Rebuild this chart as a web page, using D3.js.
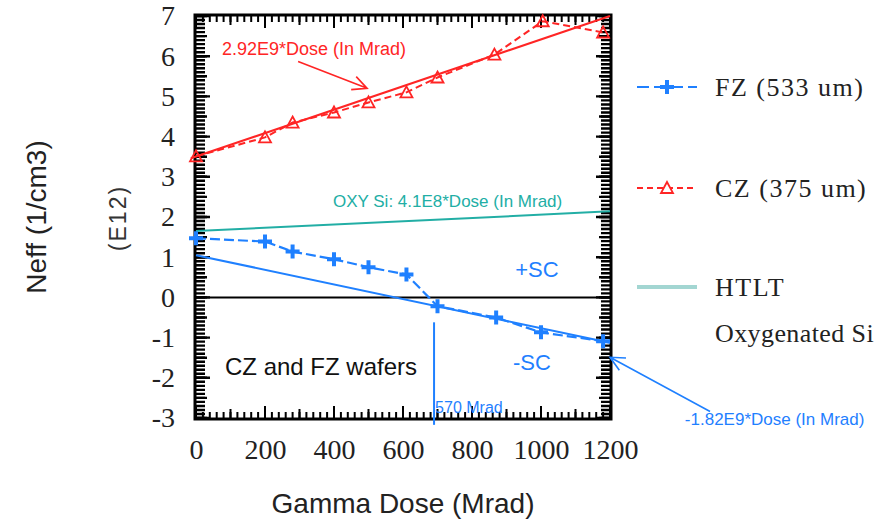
<!DOCTYPE html>
<html>
<head>
<meta charset="utf-8">
<script src="https://cdn.jsdelivr.net/npm/d3@7"></script>
<style>
  body { margin: 0; background: #fff; }
  svg { display: block; }
  .ax path { display: none; }
  .ax text { font-family: "Liberation Serif", serif; font-size: 28px; fill: #222; }
</style>
</head>
<body>
<svg width="883" height="521"></svg>
<script>
// values
const doseFZ = [0, 200, 280, 400, 500, 610, 700, 870, 1000, 1180];
const neffFZ = [1.47, 1.39, 1.14, 0.95, 0.75, 0.57, -0.22, -0.5, -0.87, -1.09];
const doseCZ = [0, 200, 280, 400, 500, 610, 700, 865, 1005, 1180];
const neffCZ = [3.51, 3.98, 4.35, 4.6, 4.85, 5.1, 5.47, 6.04, 6.87, 6.59];
// straight fits, [dose, neff] end points
const fitCZ = [[-15, 3.46], [1200, 7.0]];
const fitFZ = [[0, 1.05], [1200, -1.13]];
const fitOxy = [[0, 1.65], [1200, 2.14]];
const crossDose = 690;
const xTicks = [0, 200, 400, 600, 800, 1000, 1200];
const yTicks = [-3, -2, -1, 0, 1, 2, 3, 4, 5, 6, 7];

const blue = "#1f80ff", red = "#ff2525", teal = "#22aea5";

const svg = d3.select("svg");
const pLeft = 196, pRight = 610, pTop = 16, pBottom = 418;
const x = d3.scaleLinear().domain([0, 1200]).range([pLeft, pRight]);
const y = d3.scaleLinear().domain([-3, 7]).range([pBottom, pTop]);

// tick labels
svg.append("g").attr("class", "ax").attr("transform", `translate(${pLeft},0)`)
  .call(d3.axisLeft(y).tickValues(yTicks).tickSize(0).tickPadding(21).tickFormat(d => String(d)));
svg.append("g").attr("class", "ax").attr("transform", `translate(0,${pBottom})`)
  .call(d3.axisBottom(x).tickValues(xTicks).tickSize(0).tickPadding(21).tickFormat(d => String(d)));

// tick marks, all pointing into the frame, one path per set
function yTickMarks(vals, len) {
  const d = vals.map(v => `M${pLeft},${y(v)}h${len}M${pRight},${y(v)}h${-len}`).join("");
  svg.append("path").attr("d", d).attr("stroke", "#000").attr("stroke-width", 2.4).attr("fill", "none");
}
function xTickMarks(vals, len) {
  const d = vals.map(v => `M${x(v)},${pBottom}v${-len}M${x(v)},${pTop}v${len}`).join("");
  svg.append("path").attr("d", d).attr("stroke", "#000").attr("stroke-width", 2).attr("fill", "none");
}
yTickMarks(d3.range(-30, 71).map(d => d / 10), 9);
yTickMarks(d3.range(-6, 15).map(d => d / 2), 11);
yTickMarks(yTicks, 14);
xTickMarks(d3.range(0, 1201, 20), 6);
xTickMarks(d3.range(0, 1201, 100), 9);
xTickMarks(xTicks, 12);

svg.append("rect").attr("x", pLeft - 1).attr("y", pTop - 1)
  .attr("width", pRight - pLeft + 2).attr("height", pBottom - pTop + 2)
  .attr("fill", "none").attr("stroke", "#000").attr("stroke-width", 3);

// zero line
svg.append("line").attr("x1", x(0)).attr("x2", x(1200)).attr("y1", y(0)).attr("y2", y(0))
  .attr("stroke", "#000").attr("stroke-width", 2);

const line = d3.line().x(d => x(d[0])).y(d => y(d[1]));

// fits
svg.append("path").attr("d", line(fitOxy)).attr("stroke", teal).attr("stroke-width", 2).attr("fill", "none");
svg.append("path").attr("d", line(fitCZ)).attr("stroke", red).attr("stroke-width", 2.2).attr("fill", "none");
svg.append("path").attr("d", line(fitFZ)).attr("stroke", blue).attr("stroke-width", 2).attr("fill", "none");

// data
const czPts = doseCZ.map((d, i) => [d, neffCZ[i]]);
const fzPts = doseFZ.map((d, i) => [d, neffFZ[i]]);
svg.append("path").attr("d", line(czPts)).attr("stroke", red).attr("stroke-width", 2)
  .attr("stroke-dasharray", "7,4").attr("fill", "none");
svg.append("path").attr("d", line(fzPts)).attr("stroke", blue).attr("stroke-width", 2.2)
  .attr("stroke-dasharray", "10,4").attr("fill", "none");

const tri = "M0,-6L6,5L-6,5Z", plus = "M-7,0H7M0,-7V7";
svg.selectAll(".cz").data(czPts).enter().append("path").attr("class", "cz")
  .attr("d", tri).attr("transform", d => `translate(${x(d[0])},${y(d[1])})`)
  .attr("fill", "none").attr("stroke", red).attr("stroke-width", 1.8);
svg.selectAll(".fz").data(fzPts).enter().append("path").attr("class", "fz")
  .attr("d", plus).attr("transform", d => `translate(${x(d[0])},${y(d[1])})`)
  .attr("fill", "none").attr("stroke", blue).attr("stroke-width", 4);

// 570 Mrad marker
svg.append("line").attr("x1", x(crossDose)).attr("x2", x(crossDose))
  .attr("y1", y(-0.62)).attr("y2", y(-3.17)).attr("stroke", blue).attr("stroke-width", 2);

// arrows [from, tip] in data units
function arrow(from, tip, col) {
  const x0 = x(from[0]), y0 = y(from[1]), x1 = x(tip[0]), y1 = y(tip[1]);
  const a = Math.atan2(y1 - y0, x1 - x0), h = 16, s = 0.45;
  svg.append("path")
    .attr("d", `M${x0},${y0}L${x1},${y1}M${x1 - h * Math.cos(a - s)},${y1 - h * Math.sin(a - s)}L${x1},${y1}L${x1 - h * Math.cos(a + s)},${y1 - h * Math.sin(a + s)}`)
    .attr("stroke", col).attr("stroke-width", 1.6).attr("fill", "none");
}
arrow([296, 5.87], [496, 5.2], red);
arrow([1490, -2.84], [1200, -1.49], blue);

function label(txt, d, col, size, anchor) {
  svg.append("text").attr("x", x(d[0])).attr("y", y(d[1]))
    .attr("dominant-baseline", "central").attr("text-anchor", anchor || "start")
    .attr("font-family", "Liberation Sans, Arial, sans-serif").attr("font-size", size)
    .attr("fill", col).text(txt);
}
label("2.92E9*Dose (In Mrad)", [75, 6.17], red, 18);
label("OXY Si:  4.1E8*Dose (In Mrad)", [397, 2.39], teal, 17);
label("-1.82E9*Dose (In Mrad)", [1417, -3.03], blue, 17);
label("570 Mrad", [693, -2.74], blue, 16);
label("+SC", [925, 0.7], blue, 22);
label("-SC", [919, -1.62], blue, 22);
label("CZ and FZ wafers", [84, -1.72], "#111", 24);

// axis titles
svg.append("text").attr("x", (pLeft + pRight) / 2).attr("y", 503)
  .attr("text-anchor", "middle").attr("dominant-baseline", "central")
  .attr("font-family", "Liberation Sans, Arial, sans-serif").attr("font-size", 28)
  .attr("fill", "#222").text("Gamma Dose (Mrad)");
svg.append("text").attr("transform", "translate(36,217) rotate(-90)")
  .attr("text-anchor", "middle").attr("dominant-baseline", "central")
  .attr("font-family", "Liberation Sans, Arial, sans-serif").attr("font-size", 28)
  .attr("fill", "#222").text("Neff (1/cm3)");
svg.append("text").attr("transform", "translate(118,218) rotate(-90)")
  .attr("text-anchor", "middle").attr("dominant-baseline", "central")
  .attr("font-family", "Liberation Sans, Arial, sans-serif").attr("font-size", 23)
  .attr("letter-spacing", 2).attr("fill", "#333").text("(E12)");

// legend
const legNames = ["FZ (533 um)", "CZ (375 um)", "HTLT"];
const legY = [87, 188, 287];
const leg = svg.append("g");
legNames.forEach((n, i) => {
  const col = [blue, red, "#a3d6d2"][i];
  leg.append("line").attr("x1", 637).attr("x2", 697).attr("y1", legY[i]).attr("y2", legY[i])
    .attr("stroke", col).attr("stroke-width", i === 2 ? 4 : 2)
    .attr("stroke-dasharray", i === 0 ? "12,5" : i === 1 ? "6,4" : null);
  if (i < 2) leg.append("path").attr("d", i === 0 ? plus : tri)
    .attr("transform", `translate(667,${legY[i]})`)
    .attr("fill", i === 0 ? "none" : "#fff").attr("stroke", col).attr("stroke-width", i === 0 ? 4 : 1.8);
  leg.append("text").attr("x", 715).attr("y", legY[i]).attr("dominant-baseline", "central")
    .attr("font-family", "Liberation Serif, serif").attr("font-size", 26)
    .attr("letter-spacing", 1.5).attr("fill", "#222").text(n);
});
leg.append("text").attr("x", 715).attr("y", 333).attr("dominant-baseline", "central")
  .attr("font-family", "Liberation Serif, serif").attr("font-size", 26)
  .attr("letter-spacing", 0.4).attr("fill", "#222").text("Oxygenated Si");
</script>
</body>
</html>
